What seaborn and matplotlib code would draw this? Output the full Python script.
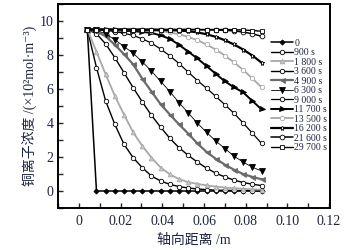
import numpy as np
import pandas as pd
import matplotlib
matplotlib.use("Agg")
import matplotlib.pyplot as plt
import seaborn as sns
from matplotlib.ticker import MultipleLocator

# axial distance (m)
x = [0.004, 0.0084, 0.0128, 0.0172, 0.0216, 0.026, 0.0304, 0.0348, 0.0392, 0.0436,
     0.048, 0.0524, 0.0568, 0.0612, 0.0656, 0.07, 0.0744, 0.0788, 0.0832, 0.0876]

labels = ["0", "900 s", "1 800 s", "3 600 s", "4 900 s", "6 300 s", "9 000 s",
          "11 700 s", "13 500 s", "16 200 s", "21 600 s", "29 700 s"]

c_0 = [9.5, 0, 0, 0, 0, 0, 0, 0, 0, 0, 0, 0, 0, 0, 0, 0, 0, 0, 0, 0]
c_900 = [9.5, 7.26, 5.3, 3.92, 2.75, 1.96, 1.37, 0.88, 0.59, 0.39,
         0.26, 0.18, 0.12, 0.08, 0.05, 0.04, 0.03, 0.02, 0.01, 0.01]
c_1800 = [9.5, 8.2, 6.86, 5.6, 4.5, 3.45, 2.65, 1.96, 1.38, 0.98,
          0.7, 0.52, 0.42, 0.33, 0.26, 0.2, 0.16, 0.13, 0.1, 0.08]
c_3600 = [9.5, 9.25, 8.65, 7.85, 6.96, 6.08, 5.24, 4.45, 3.75, 3.1,
          2.55, 2.1, 1.7, 1.35, 1.05, 0.83, 0.64, 0.5, 0.4, 0.32]
c_4900 = [9.5, 9.4, 9.1, 8.6, 8.05, 7.45, 6.6, 5.85, 5.1, 4.5,
          3.92, 3.38, 2.8, 2.3, 1.9, 1.55, 1.25, 1.0, 0.83, 0.69]
c_6300 = [9.5, 9.45, 9.25, 8.9, 8.5, 8.1, 7.6, 7.05, 6.45, 5.85,
          5.2, 4.6, 4.0, 3.45, 2.95, 2.5, 2.05, 1.7, 1.4, 1.18]
c_9000 = [9.5, 9.48, 9.45, 9.38, 9.28, 9.15, 8.95, 8.7, 8.35, 7.95,
          7.5, 7.0, 6.5, 6.05, 5.57, 5.08, 4.57, 4.0, 3.4, 2.8]
c_11700 = [9.5, 9.5, 9.48, 9.46, 9.43, 9.4, 9.36, 9.3, 9.15, 8.95,
           8.6, 8.2, 7.8, 7.35, 6.9, 6.45, 6.1, 5.8, 5.3, 4.8]
c_13500 = [9.5, 9.5, 9.5, 9.49, 9.48, 9.47, 9.45, 9.43, 9.4, 9.33,
           9.22, 9.07, 8.87, 8.62, 8.32, 7.97, 7.57, 7.12, 6.62, 6.1]
c_16200 = [9.5, 9.5, 9.5, 9.5, 9.5, 9.49, 9.49, 9.48, 9.47, 9.46,
           9.44, 9.4, 9.33, 9.22, 9.07, 8.87, 8.62, 8.32, 7.97, 7.55]
c_21600 = [9.5, 9.5, 9.5, 9.5, 9.5, 9.5, 9.5, 9.5, 9.5, 9.5,
           9.5, 9.5, 9.49, 9.48, 9.47, 9.45, 9.42, 9.35, 9.25, 9.1]
c_29700 = [9.5, 9.5, 9.5, 9.5, 9.5, 9.5, 9.5, 9.5, 9.5, 9.5,
           9.5, 9.5, 9.5, 9.5, 9.5, 9.5, 9.49, 9.47, 9.44, 9.4]

series = [c_0, c_900, c_1800, c_3600, c_4900, c_6300, c_9000,
          c_11700, c_13500, c_16200, c_21600, c_29700]

styles = [
    dict(color="black", marker="D", mfc="black", mec="black", ms=2.6, lw=1.1),
    dict(color="black", marker="o", mfc="white", mec="black", ms=3.2, lw=1.0),
    dict(color="#a8a8a8", marker="^", mfc="#c8c8c8", mec="#a8a8a8", ms=3.4, lw=1.3),
    dict(color="black", marker="o", mfc="white", mec="black", ms=3.2, lw=1.0),
    dict(color="#6a6a6a", marker="<", mfc="#6a6a6a", mec="#6a6a6a", ms=3.6, lw=1.6),
    dict(color="black", marker="v", mfc="black", mec="black", ms=3.8, lw=0.6),
    dict(color="black", marker="o", mfc="white", mec="black", ms=3.2, lw=0.9),
    dict(color="black", marker=">", mfc="black", mec="black", ms=3.6, lw=1.4),
    dict(color="#a8a8a8", marker="o", mfc="white", mec="#a8a8a8", ms=3.2, lw=1.3),
    dict(color="black", marker="*", mfc="white", mec="black", ms=3.6, lw=1.6),
    dict(color="black", marker="o", mfc="white", mec="black", ms=3.4, lw=1.1),
    dict(color="black", marker="s", mfc="white", mec="black", ms=3.0, lw=1.0),
]

sns.set_style("ticks")
plt.rcParams["font.family"] = ["Liberation Serif", "Noto Sans CJK SC", "DejaVu Serif"]
plt.rcParams["axes.unicode_minus"] = False

fig = plt.figure(figsize=(3.46, 2.5), dpi=100)
ax = fig.add_axes([0.168, 0.168, 0.786, 0.816])

for lab, vals, st in zip(labels, series, styles):
    df = pd.DataFrame({"x": x, "y": vals})
    sns.lineplot(data=df, x="x", y="y", ax=ax, sort=False, estimator=None,
                 color=st["color"], marker=st["marker"], markersize=st["ms"],
                 markerfacecolor=st["mfc"], markeredgecolor=st["mec"],
                 markeredgewidth=0.6, linewidth=st["lw"], label=lab)

ax.set_xlim(-0.01, 0.1205)
ax.set_ylim(-1, 11)
ax.xaxis.set_major_locator(MultipleLocator(0.02))
ax.xaxis.set_minor_locator(MultipleLocator(0.01))
ax.yaxis.set_major_locator(MultipleLocator(2))
ax.yaxis.set_minor_locator(MultipleLocator(1))
ax.set_xticks([0, 0.02, 0.04, 0.06, 0.08, 0.10, 0.12])
ax.set_xticklabels(["0", "0.02", "0.04", "0.06", "0.08", "0.10", "0.12"])
ax.set_yticks([0, 2, 4, 6, 8, 10])
ax.set_yticklabels(["0", "2", "4", "6", "8", "10"])
ax.tick_params(axis="both", which="both", direction="in", labelsize=10,
               labelcolor="#1f2440", width=1.0)
ax.tick_params(axis="both", which="major", length=3.5)
ax.tick_params(axis="both", which="minor", length=3.5)
ax.tick_params(axis="x", pad=5)
for sp in ax.spines.values():
    sp.set_linewidth(1.4)
    sp.set_color("black")

ax.set_xlabel("轴向距离 /m", fontsize=10, color="#1f2440", labelpad=4)
ax.set_ylabel("铜离子浓度 /(×10²mol·m⁻³)", fontsize=10, color="#1f2440", labelpad=1)

leg = ax.legend(loc="upper right", bbox_to_anchor=(0.99, 0.83), frameon=False,
                fontsize=7, labelspacing=0.05, handlelength=2.3,
                handletextpad=0.15, borderaxespad=0.0, borderpad=0.0)
for t in leg.get_texts():
    t.set_color("#1f2440")

fig.savefig("out.png", dpi=100)
